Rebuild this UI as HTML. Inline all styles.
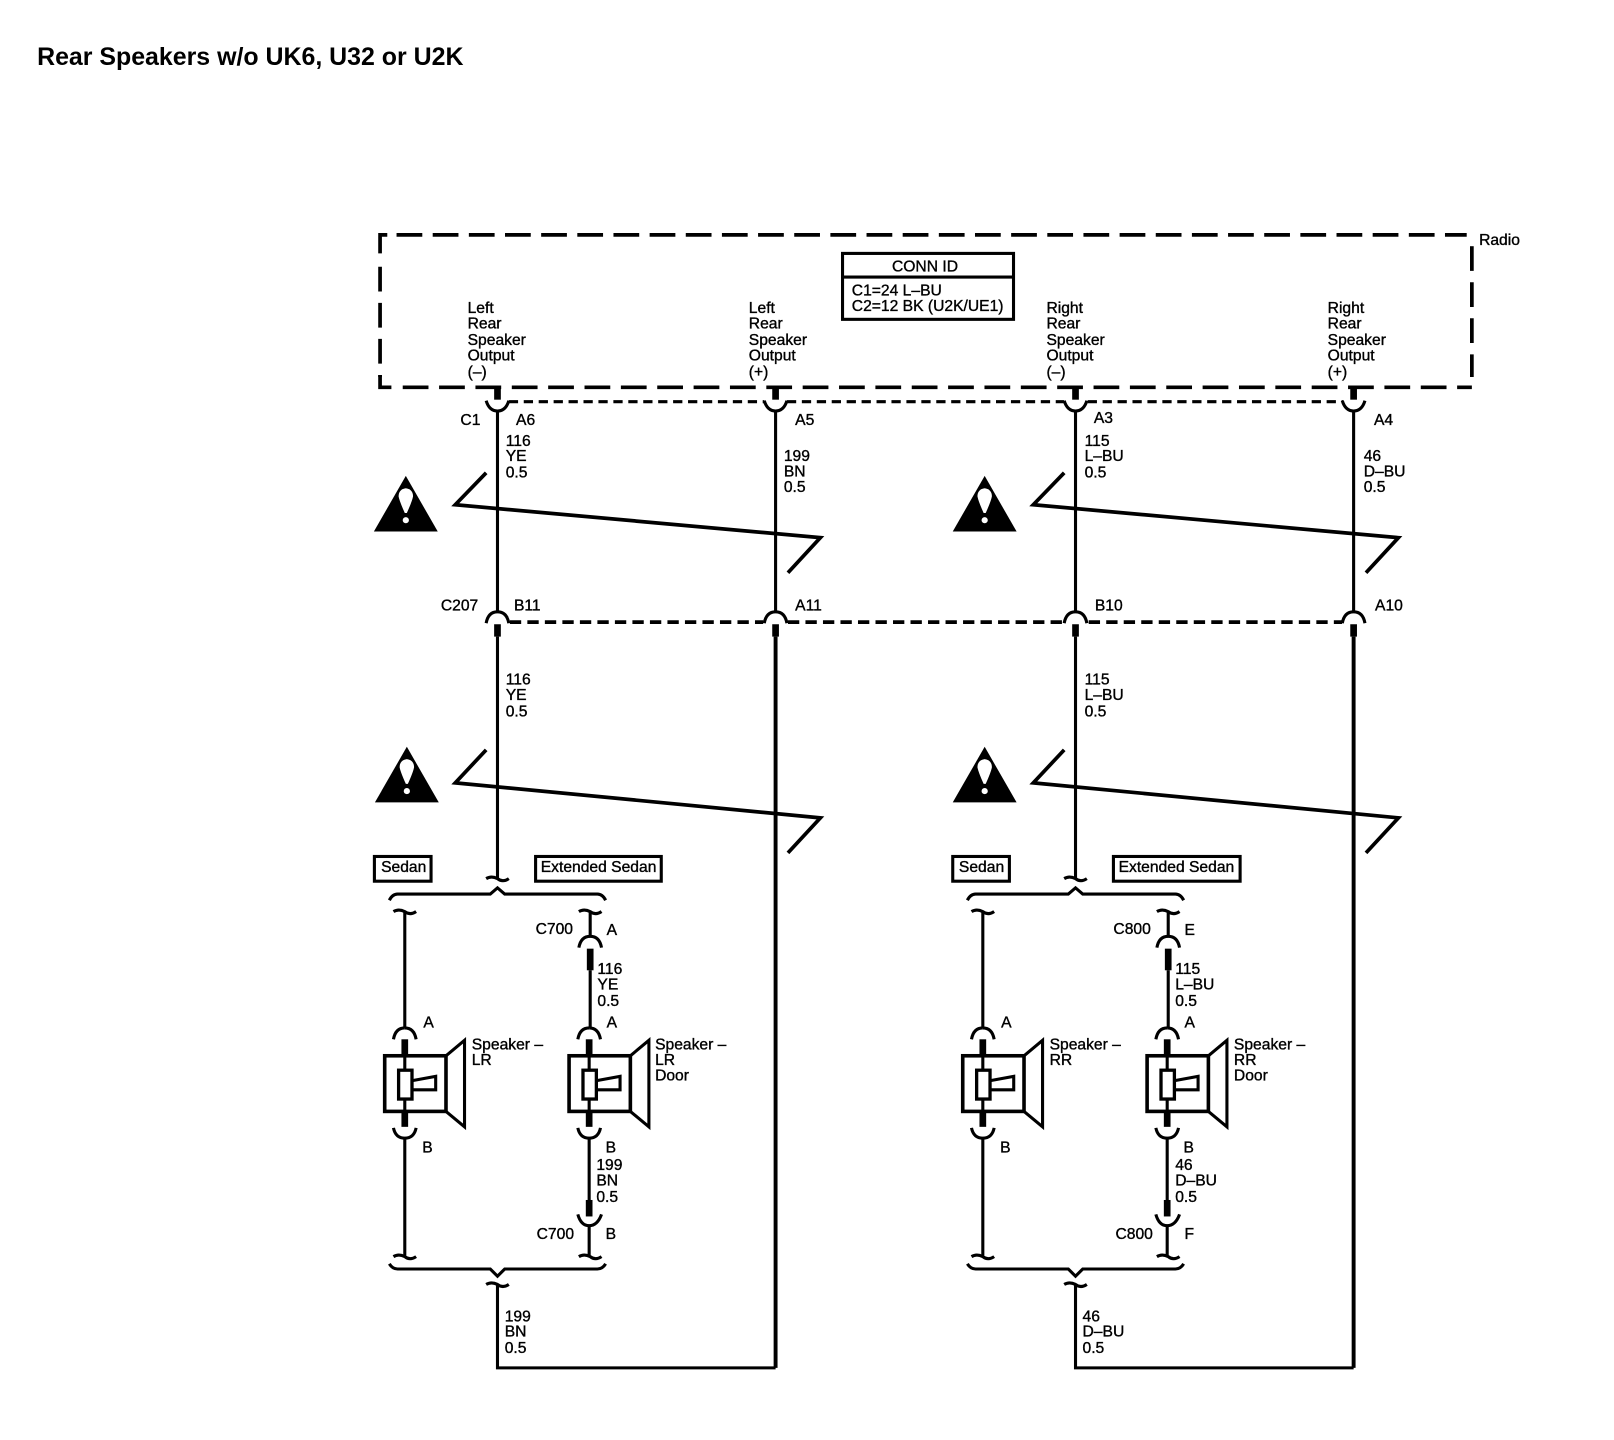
<!DOCTYPE html>
<html lang="en">
<head>
<meta charset="utf-8">
<title>Rear Speakers</title>
<style>
html,body{margin:0;padding:0;background:#fff;}
svg{display:block;}
text{font-family:"Liberation Sans",sans-serif;font-size:15.2px;fill:#000;stroke:#000;stroke-width:.35;transform:translateY(-.7px);}
.t{font-weight:bold;font-size:24.2px;stroke:none;}
.w{fill:none;stroke:#000;stroke-width:3;}
.k{fill:none;stroke:#000;stroke-width:6.5;}
.z{fill:none;stroke:#000;stroke-width:3.6;stroke-linejoin:miter;}
</style>
</head>
<body>
<svg xmlns="http://www.w3.org/2000/svg" width="1614" height="1440" viewBox="0 0 1567 1398">
<defs>
  <g id="cupDown">
    <path class="k" d="M0 -14V-2"/>
    <path class="w" d="M-11 -1Q-8 9 0 9Q8 9 11 -1"/>
  </g>
  <g id="capUp">
    <path class="w" d="M-11 1Q-9 -10 0 -10Q9 -10 11 1"/>
  </g>
  <g id="tilde">
    <path class="w" d="M-11 0Q-6 -3 0 0Q5 4 11 0"/>
  </g>
  <g id="warn">
    <path fill="#000" d="M31 0L62 54H0Z"/>
    <path fill="#fff" d="M31 12Q38 13 38 20Q37 25 32 36H30Q25 25 24 20Q24 13 31 12Z"/>
    <circle cx="31" cy="43" r="3" fill="#fff"/>
  </g>
  <g id="speaker">
    <path class="w" d="M0 -27Q-9 -27 -11 -16"/>
    <path class="w" d="M0 -27Q9 -27 11 -16"/>
    <path class="k" d="M0 -16V0"/>
    <path class="w" d="M0 0V14M0 42V54"/>
    <rect x="-19.5" y="0" width="59.5" height="54" fill="none" stroke="#000" stroke-width="3.5"/>
    <path class="w" d="M40 0L58 -15V69L40 54"/>
    <rect x="-6" y="14" width="13" height="28" fill="none" stroke="#000" stroke-width="3.2"/>
    <path class="w" d="M8 24L30 20V33H8"/>
    <path class="k" d="M0 54V69"/>
    <path class="w" d="M-11 70Q-9 80 0 80Q9 80 11 70"/>
  </g>
  <g id="half">
    <path class="w" d="M483 400V594M483 618V853M753 400V594"/>
    <path class="w" style="stroke-width:3.8" d="M753 618V1328"/>
    <use href="#cupDown" x="483" y="390"/>
    <use href="#cupDown" x="753" y="390"/>
    <use href="#capUp" x="483" y="604"/>
    <use href="#capUp" x="753" y="604"/>
    <path class="k" d="M483 606V618M753 606V618"/>
    <path class="z" d="M472 459L442 490L796.500 522L765 556"/>
    <path class="z" d="M472 728L442 760L796.500 794L765 828"/>
    <use href="#tilde" x="483" y="853"/>
    <path class="w" d="M378 874Q381 868 386 868H476L483 862L490 868H580Q585 868 588 874"/>
    <use href="#tilde" x="393" y="885"/>
    <use href="#tilde" x="573" y="885"/>
    <path class="w" d="M393 885V998M573 885V909"/>
    <use href="#capUp" x="573" y="919"/>
    <path class="k" d="M573 921V942"/>
    <path class="w" d="M573 942V998"/>
    <use href="#speaker" x="393" y="1025"/>
    <use href="#speaker" x="572" y="1025"/>
    <path class="w" d="M393 1105V1219M572 1105V1165"/>
    <path class="k" d="M572 1165V1181"/>
    <path class="w" d="M561 1179Q564 1190 572 1190Q580 1190 584 1179M572 1190V1219"/>
    <use href="#tilde" x="393" y="1220"/>
    <use href="#tilde" x="573" y="1220"/>
    <path class="w" d="M378 1227Q381 1232 386 1232H476L483 1239L490 1232H580Q585 1232 588 1227"/>
    <use href="#tilde" x="483" y="1247"/>
    <path class="w" d="M483 1247V1328H753"/>
  </g>
</defs>

<text class="t" x="36" y="64">Rear Speakers w/o UK6, U32 or U2K</text>

<!-- Radio box -->
<g fill="none" stroke="#000" stroke-width="3.6">
  <path d="M369 246V228H376"/>
  <path d="M385 228H1424" stroke-dasharray="25 10.1"/>
  <path d="M369 259V366" stroke-dasharray="24 11"/>
  <path d="M369 364V376H380"/>
  <path d="M391 376H1429" stroke-dasharray="25 10.3"/>
  <path d="M1429 239V366" stroke-dasharray="24 11"/>
</g>
<text x="1436" y="233" dy=".36em">Radio</text>

<rect x="818" y="246" width="166" height="64" fill="none" stroke="#000" stroke-width="3"/>
<path class="w" d="M818 269H984"/>
<text x="866" y="259" dy=".36em">CONN ID</text>
<text x="827" y="282" dy=".36em">C1=24 L–BU</text>
<text x="827" y="297" dy=".36em">C2=12 BK (U2K/UE1)</text>

<!-- dashed connector lines -->
<path d="M494 390H742M764 390H1033M1056 390H1304" fill="none" stroke="#000" stroke-width="3" stroke-dasharray="9 5.5"/>
<path d="M495 604H741M765 604H1032M1057 604H1303" fill="none" stroke="#000" stroke-width="3.6" stroke-dasharray="11 6"/>

<use href="#half"/>
<use href="#half" x="561.2"/>

<use href="#warn" x="363" y="462"/>
<use href="#warn" x="364" y="725"/>
<use href="#warn" x="925" y="462"/>
<use href="#warn" x="925" y="725"/>

<!-- Variant boxes -->
<g fill="none" stroke="#000" stroke-width="3">
  <rect x="363.5" y="831.500" width="55" height="24"/>
  <rect x="520" y="831.500" width="122" height="24"/>
  <rect x="925" y="831.500" width="55" height="24"/>
  <rect x="1081" y="831.500" width="123" height="24"/>
</g>
<text x="370" y="842" dy=".36em">Sedan</text>
<text x="525" y="842" dy=".36em">Extended Sedan</text>
<text x="931" y="842" dy=".36em">Sedan</text>
<text x="1086" y="842" dy=".36em">Extended Sedan</text>

<!-- Output labels -->
<text x="454" y="299" dy=".36em">Left</text><text x="454" y="314" dy=".36em">Rear</text><text x="454" y="330" dy=".36em">Speaker</text><text x="454" y="345" dy=".36em">Output</text><text x="454" y="361" dy=".36em">(–)</text>
<text x="727" y="299" dy=".36em">Left</text><text x="727" y="314" dy=".36em">Rear</text><text x="727" y="330" dy=".36em">Speaker</text><text x="727" y="345" dy=".36em">Output</text><text x="727" y="361" dy=".36em">(+)</text>
<text x="1016" y="299" dy=".36em">Right</text><text x="1016" y="314" dy=".36em">Rear</text><text x="1016" y="330" dy=".36em">Speaker</text><text x="1016" y="345" dy=".36em">Output</text><text x="1016" y="361" dy=".36em">(–)</text>
<text x="1289" y="299" dy=".36em">Right</text><text x="1289" y="314" dy=".36em">Rear</text><text x="1289" y="330" dy=".36em">Speaker</text><text x="1289" y="345" dy=".36em">Output</text><text x="1289" y="361" dy=".36em">(+)</text>

<!-- C1 -->
<text x="447" y="408" dy=".36em">C1</text>
<text x="501" y="408" dy=".36em">A6</text>
<text x="772" y="408" dy=".36em">A5</text>
<text x="1062" y="406" dy=".36em">A3</text>
<text x="1334" y="408" dy=".36em">A4</text>
<text x="491" y="428" dy=".36em">116</text><text x="491" y="443" dy=".36em">YE</text><text x="491" y="459" dy=".36em">0.5</text>
<text x="761" y="443" dy=".36em">199</text><text x="761" y="458" dy=".36em">BN</text><text x="761" y="473" dy=".36em">0.5</text>
<text x="1053" y="428" dy=".36em">115</text><text x="1053" y="443" dy=".36em">L–BU</text><text x="1053" y="459" dy=".36em">0.5</text>
<text x="1324" y="443" dy=".36em">46</text><text x="1324" y="458" dy=".36em">D–BU</text><text x="1324" y="473" dy=".36em">0.5</text>

<!-- C207 -->
<text x="428" y="588" dy=".36em">C207</text>
<text x="499" y="588" dy=".36em">B11</text>
<text x="772" y="588" dy=".36em">A11</text>
<text x="1063" y="588" dy=".36em">B10</text>
<text x="1335" y="588" dy=".36em">A10</text>
<text x="491" y="660" dy=".36em">116</text><text x="491" y="675" dy=".36em">YE</text><text x="491" y="691" dy=".36em">0.5</text>
<text x="1053" y="660" dy=".36em">115</text><text x="1053" y="675" dy=".36em">L–BU</text><text x="1053" y="691" dy=".36em">0.5</text>

<!-- Left lower -->
<text x="520" y="902" dy=".36em">C700</text>
<text x="589" y="903" dy=".36em">A</text>
<text x="580" y="941" dy=".36em">116</text><text x="580" y="956" dy=".36em">YE</text><text x="580" y="972" dy=".36em">0.5</text>
<text x="411" y="993" dy=".36em">A</text>
<text x="589" y="993" dy=".36em">A</text>
<text x="458" y="1014" dy=".36em">Speaker –</text><text x="458" y="1029" dy=".36em">LR</text>
<text x="636" y="1014" dy=".36em">Speaker –</text><text x="636" y="1029" dy=".36em">LR</text><text x="636" y="1044" dy=".36em">Door</text>
<text x="410" y="1114" dy=".36em">B</text>
<text x="588" y="1114" dy=".36em">B</text>
<text x="579" y="1131" dy=".36em">199</text><text x="579" y="1146" dy=".36em">BN</text><text x="579" y="1162" dy=".36em">0.5</text>
<text x="521" y="1198" dy=".36em">C700</text>
<text x="588" y="1198" dy=".36em">B</text>
<text x="490" y="1278" dy=".36em">199</text><text x="490" y="1293" dy=".36em">BN</text><text x="490" y="1309" dy=".36em">0.5</text>

<!-- Right lower -->
<text x="1081" y="902" dy=".36em">C800</text>
<text x="1150" y="903" dy=".36em">E</text>
<text x="1141" y="941" dy=".36em">115</text><text x="1141" y="956" dy=".36em">L–BU</text><text x="1141" y="972" dy=".36em">0.5</text>
<text x="972" y="993" dy=".36em">A</text>
<text x="1150" y="993" dy=".36em">A</text>
<text x="1019" y="1014" dy=".36em">Speaker –</text><text x="1019" y="1029" dy=".36em">RR</text>
<text x="1198" y="1014" dy=".36em">Speaker –</text><text x="1198" y="1029" dy=".36em">RR</text><text x="1198" y="1044" dy=".36em">Door</text>
<text x="971" y="1114" dy=".36em">B</text>
<text x="1149" y="1114" dy=".36em">B</text>
<text x="1141" y="1131" dy=".36em">46</text><text x="1141" y="1146" dy=".36em">D–BU</text><text x="1141" y="1162" dy=".36em">0.5</text>
<text x="1083" y="1198" dy=".36em">C800</text>
<text x="1150" y="1198" dy=".36em">F</text>
<text x="1051" y="1278" dy=".36em">46</text><text x="1051" y="1293" dy=".36em">D–BU</text><text x="1051" y="1309" dy=".36em">0.5</text>
</svg>
</body>
</html>
